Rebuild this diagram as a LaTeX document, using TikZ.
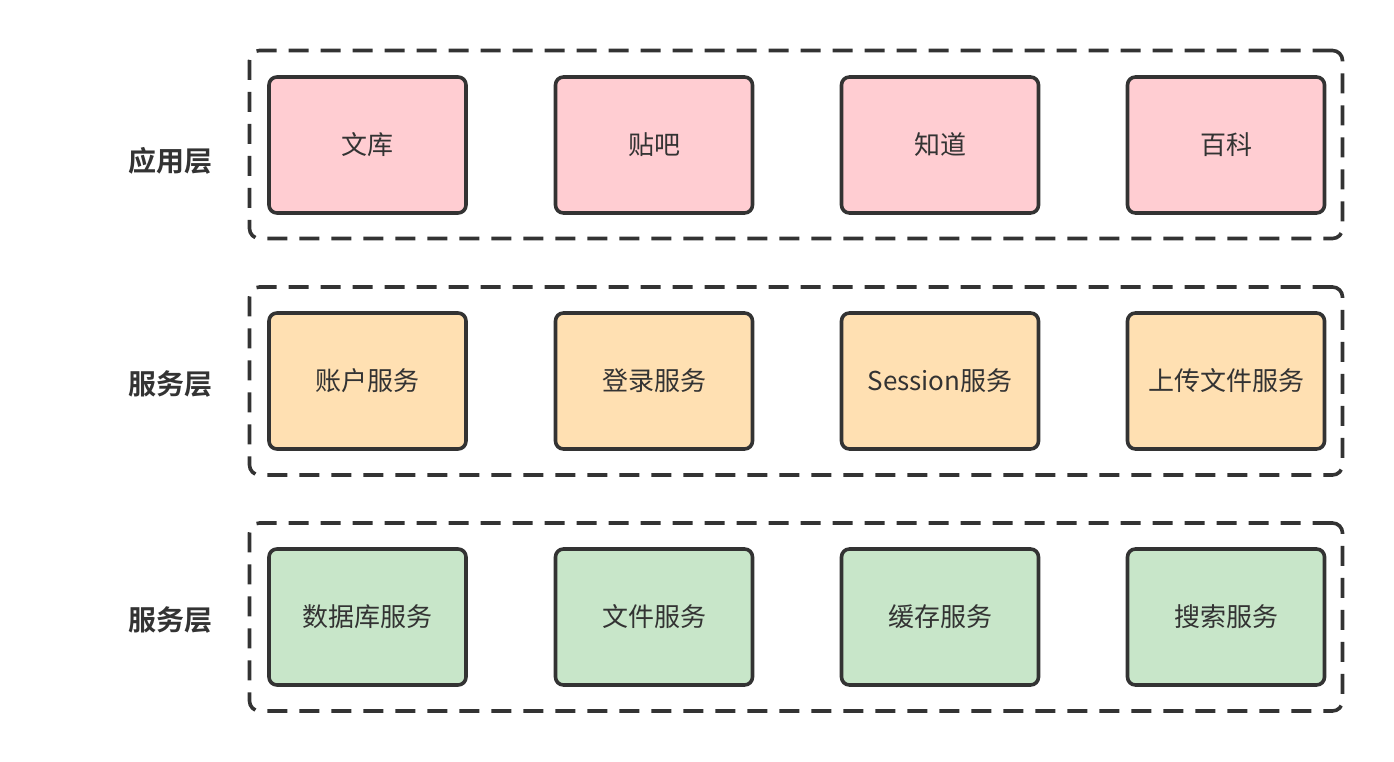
\documentclass[tikz,border=0pt]{standalone}
\usepackage{fontspec}
\setmainfont{Noto Sans CJK SC}
\newfontfamily\cjkbold{Noto Sans CJK SC Bold}
\definecolor{edge}{HTML}{333333}
\definecolor{appfill}{HTML}{FFCDD2}
\definecolor{srvfill}{HTML}{FFE0B2}
\definecolor{basefill}{HTML}{C8E6C9}

\begin{document}
\begin{tikzpicture}[x=1pt,y=-1pt,
	box/.style={draw=edge,line width=3.6pt,rounded corners=8pt,minimum width=197pt,minimum height=136pt,inner sep=0pt,font=\fontsize{26}{30}\selectfont,text=edge},
	frame/.style={draw=edge,line width=3.6pt,dash pattern=on 20pt off 12pt,rounded corners=10pt,minimum width=1093pt,minimum height=188pt,inner sep=0pt},
	layer/.style={font=\cjkbold\fontsize{28}{32}\selectfont,text=edge}]
	\useasboundingbox (0,0) rectangle (1394,762);
	% layer frames
	\node[frame] (appframe) at (796,144.5) {};
	\node[frame] (srvframe) at (796,381) {};
	\node[frame] (baseframe) at (796,617) {};
	% layer names
	\node[layer] (applabel) at (170,161) {应用层};
	\node[layer] (srvlabel) at (170,384) {服务层};
	\node[layer] (baselabel) at (170,620) {服务层};
	% application layer
	\node[box,fill=appfill] (wenku) at (367.5,145) {\raisebox{-2pt}{文库}};
	\node[box,fill=appfill] (tieba) at (654,145) {\raisebox{-2pt}{贴吧}};
	\node[box,fill=appfill] (zhidao) at (940,145) {\raisebox{-2pt}{知道}};
	\node[box,fill=appfill] (baike) at (1226,145) {\raisebox{-2pt}{百科}};
	% service layer
	\node[box,fill=srvfill] (account) at (367.5,381) {\raisebox{-2pt}{账户服务}};
	\node[box,fill=srvfill] (login) at (654,381) {\raisebox{-2pt}{登录服务}};
	\node[box,fill=srvfill] (session) at (940,381) {\raisebox{-2pt}{Session服务}};
	\node[box,fill=srvfill] (upload) at (1226,381) {\raisebox{-2pt}{上传文件服务}};
	% base services
	\node[box,fill=basefill] (database) at (367.5,617) {\raisebox{-2pt}{数据库服务}};
	\node[box,fill=basefill] (files) at (654,617) {\raisebox{-2pt}{文件服务}};
	\node[box,fill=basefill] (cache) at (940,617) {\raisebox{-2pt}{缓存服务}};
	\node[box,fill=basefill] (search) at (1226,617) {\raisebox{-2pt}{搜索服务}};
\end{tikzpicture}
\end{document}
